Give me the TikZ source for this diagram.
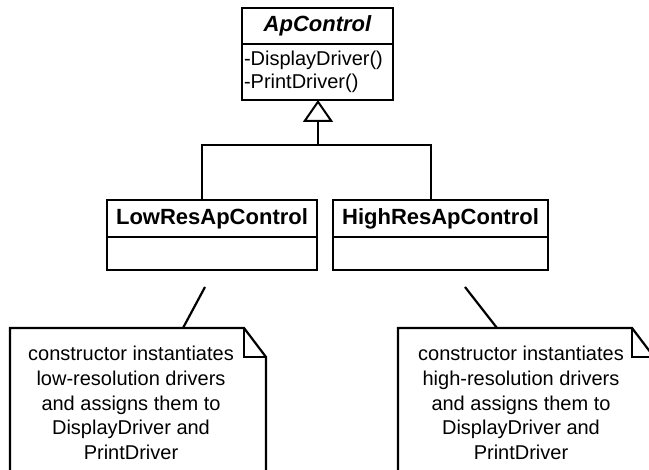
\documentclass[tikz,border=0pt]{standalone}
\usepackage{fontspec}
\setmainfont{Liberation Sans}
\usetikzlibrary{arrows.meta, positioning}
\tikzset{
  classname/.style = {
    rectangle, draw, line width=1pt, outer sep=0pt,
    minimum width=#1, minimum height=18.5pt, inner sep=1pt,
    font=\fontsize{11}{13}\selectfont\bfseries
  },
  classname/.default = 105pt,
  classbody/.style = {
    rectangle, draw, line width=1pt, outer sep=0pt,
    minimum width=#1, minimum height=16.5pt, inner sep=1pt,
    align=left, font=\fontsize{10}{11.5}\selectfont
  },
  classbody/.default = 105pt,
  notebox/.style = {
    rectangle, outer sep=0pt, inner sep=0pt,
    minimum width=128pt, minimum height=72pt
  },
  notetext/.style = {align=center, font=\fontsize{10}{12.4}\selectfont},
  noteline/.style = {line width=1.1pt, line join=miter},
  gen/.style = {line width=1pt},
  genarr/.style = {-{Triangle[open, length=11pt, width=15pt, line width=1pt]}, line width=1pt},
  link/.style = {line width=1.1pt},
}

\begin{document}
\begin{tikzpicture}[x=0.5pt, y=-0.5pt]
  \useasboundingbox (0,0) rectangle (649,470);
  \clip (0,0) rectangle (649,470);

  % classes
  \node[classname=75.5pt, minimum height=18pt] (ap) at (317.5,26)
    {\itshape ApControl};
  \node[classbody=75.5pt, minimum height=28pt, text width=73.5pt,
        below=0pt of ap] (apbody)
    {-DisplayDriver()\\-PrintDriver()};

  \node[classname=105pt] (low) at (212,218.5) {LowResApControl};
  \node[classbody=105pt, below=0pt of low] (lowbody) {};

  \node[classname=107.5pt] (high) at (440.5,218.5) {HighResApControl};
  \node[classbody=107.5pt, below=0pt of high] (highbody) {};

  % inheritance
  \coordinate (bus) at (318,145);
  \coordinate (lowjoin) at ([xshift=-5pt]low.north);
  \coordinate (highjoin) at ([xshift=-5pt]high.north);
  \draw[genarr] (bus) -- (bus |- apbody.south);
  \draw[gen] (lowjoin) |- (bus) -| (highjoin);

  % notes
  \node[notebox, anchor=north west] (lownote) at (10,328) {};
  \draw[noteline] (lownote.south west) |- ([xshift=-11pt]lownote.north east)
    -- ([yshift=-14.5pt]lownote.north east) -- (lownote.south east);
  \draw[noteline] ([xshift=-11pt]lownote.north east)
    |- ([yshift=-14.5pt]lownote.north east);
  \node[notetext] (lowtext) at (131,403)
    {constructor instantiates\\low-resolution drivers\\and assigns them to\\DisplayDriver and\\PrintDriver};

  \node[notebox, anchor=north west] (highnote) at (398,328) {};
  \draw[noteline] (highnote.south west) |- ([xshift=-11pt]highnote.north east)
    -- ([yshift=-14.5pt]highnote.north east) -- (highnote.south east);
  \draw[noteline] ([xshift=-11pt]highnote.north east)
    |- ([yshift=-14.5pt]highnote.north east);
  \node[notetext] (hightext) at (521,403)
    {constructor instantiates\\high-resolution drivers\\and assigns them to\\DisplayDriver and\\PrintDriver};

  % note links
  \coordinate (lowtail) at (205,287);
  \coordinate (hightail) at (465,287);
  \draw[link] (lowtail) -- ([xshift=86.5pt]lownote.north west);
  \draw[link] (hightail) -- ([xshift=49.5pt]highnote.north west);
\end{tikzpicture}
\end{document}
